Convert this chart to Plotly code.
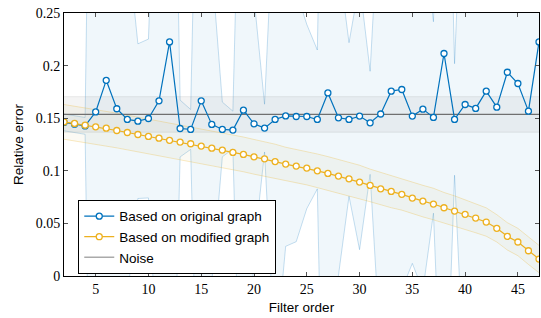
import plotly.graph_objects as go

# ---------------- data ----------------
filter_order = list(range(2, 48))

orig_mean = [0.146, 0.1443, 0.1427, 0.156, 0.186, 0.159, 0.1488, 0.1472, 0.1497, 0.1665,
             0.2225, 0.1402, 0.1393, 0.1665, 0.1441, 0.1393, 0.1387, 0.1576, 0.1447, 0.1406,
             0.1488, 0.1522, 0.1516, 0.1516, 0.1488, 0.174, 0.1504, 0.1488, 0.152, 0.1456,
             0.154, 0.1757, 0.1773, 0.152, 0.1586, 0.1507, 0.2115, 0.1488, 0.163, 0.1593,
             0.1757, 0.1605, 0.1937, 0.183, 0.1567, 0.2225]

orig_std = [0.008, 0.008, 0.008, 0.7, 0.6, 0.4, 0.17, 0.0735, 0.0755, 0.34,
            0.5, 0.027, 0.019, 0.45, 0.15, 0.026, 0.018, 0.4, 0.12, 0.0227,
            0.229, 0.124, 0.119, 0.0876, 0.066, 0.57, 0.15, 0.073, 0.127, 0.049,
            0.227, 0.2, 0.19, 0.14, 0.1725, 0.091, 0.4, 0.053, 0.28, 0.3,
            0.28, 0.3, 0.3, 0.25, 0.3, 0.3]

mod_mean = [0.1465, 0.145, 0.1434, 0.1418, 0.1405, 0.1383, 0.1364, 0.1345, 0.1327, 0.131,
            0.129, 0.1273, 0.1257, 0.1235, 0.1215, 0.1197, 0.1175, 0.1156, 0.1133, 0.1114,
            0.1088, 0.1064, 0.1045, 0.1026, 0.1, 0.0975, 0.095, 0.0924, 0.0893, 0.0861,
            0.0829, 0.0804, 0.0776, 0.0741, 0.0712, 0.0684, 0.0649, 0.0617, 0.0586, 0.0551,
            0.0513, 0.0453, 0.0377, 0.0323, 0.024, 0.0161]

mod_std = [0.0165, 0.0165, 0.0165, 0.0165, 0.0165, 0.0165, 0.0165, 0.0165, 0.0165, 0.0165,
           0.0165, 0.0165, 0.0165, 0.0165, 0.0165, 0.0165, 0.0165, 0.0165, 0.0165, 0.0165,
           0.0165, 0.016, 0.016, 0.016, 0.016, 0.016, 0.016, 0.016, 0.016, 0.0155,
           0.0155, 0.0155, 0.015, 0.015, 0.015, 0.015, 0.0145, 0.0145, 0.014, 0.014,
           0.0135, 0.013, 0.013, 0.013, 0.013, 0.013]

noise_level = 0.1536
noise_std = 0.0169

x_ticks = [5, 10, 15, 20, 25, 30, 35, 40, 45]
y_ticks = [0, 0.05, 0.1, 0.15, 0.2, 0.25]
y_tick_text = ["0", "0.05", "0.1", "0.15", "0.2", "0.25"]

BLUE = "#0072BD"
ORANGE = "#EDB120"

fig = go.Figure()

def band(x, lo, hi, line_col, fill_col):
    fig.add_trace(go.Scatter(x=x, y=lo, mode="lines", line=dict(color=line_col, width=0.9),
                             showlegend=False, hoverinfo="skip"))
    fig.add_trace(go.Scatter(x=x, y=hi, mode="lines", line=dict(color=line_col, width=0.9),
                             fill="tonexty", fillcolor=fill_col, showlegend=False, hoverinfo="skip"))

# blue band
band(filter_order,
     [m - s for m, s in zip(orig_mean, orig_std)],
     [m + s for m, s in zip(orig_mean, orig_std)],
     "rgba(0,114,189,0.25)", "rgba(0,114,189,0.06)")

# noise band
nx = [filter_order[0], filter_order[-1]]
band(nx, [noise_level - noise_std] * 2, [noise_level + noise_std] * 2,
     "rgba(128,128,128,0.18)", "rgba(128,128,128,0.09)")

# orange band
band(filter_order,
     [m - s for m, s in zip(mod_mean, mod_std)],
     [m + s for m, s in zip(mod_mean, mod_std)],
     "rgba(237,177,32,0.3)", "rgba(200,190,110,0.08)")

# noise line
fig.add_trace(go.Scatter(x=nx, y=[noise_level] * 2, mode="lines",
                         line=dict(color="#707070", width=1.2), showlegend=False))

marker_common = dict(symbol="circle", size=6, color="white")

fig.add_trace(go.Scatter(x=filter_order, y=orig_mean, mode="lines+markers",
                         name="Based on original graph",
                         line=dict(color=BLUE, width=1.2),
                         marker=dict(**marker_common, line=dict(color=BLUE, width=1.3))))
fig.add_trace(go.Scatter(x=filter_order, y=mod_mean, mode="lines+markers",
                         name="Based on modified graph",
                         line=dict(color=ORANGE, width=1.2),
                         marker=dict(**marker_common, line=dict(color=ORANGE, width=1.3))))
fig.add_trace(go.Scatter(x=[None], y=[None], mode="lines", name="Noise",
                         line=dict(color="#aaaaaa", width=1.5)))

serif = "Liberation Serif"
sans = "Liberation Sans"

fig.update_layout(
    width=541, height=318,
    margin=dict(l=64, r=2, t=13, b=42),
    paper_bgcolor="white", plot_bgcolor="white",
    showlegend=True,
    legend=dict(x=0.03, y=0.008, xanchor="left", yanchor="bottom",
                bgcolor="white", bordercolor="black", borderwidth=1,
                font=dict(family=sans, size=13.5, color="black"),
                traceorder="normal", tracegroupgap=0, itemwidth=30),
    font=dict(family=sans, color="black"),
)

fig.update_xaxes(range=[2, 47], tickvals=x_ticks, ticks="inside", ticklen=4,
                 tickcolor="#555555", showline=True, linecolor="black", linewidth=1,
                 mirror="ticks", showgrid=False, zeroline=False,
                 tickfont=dict(family=serif, size=14),
                 title=dict(text="Filter order", font=dict(family=sans, size=13.5), standoff=6))
fig.update_yaxes(range=[0, 0.25], tickvals=y_ticks, ticktext=y_tick_text, ticks="inside",
                 ticklen=4, tickcolor="#555555", showline=True, linecolor="black", linewidth=1,
                 mirror="ticks", showgrid=False, zeroline=False,
                 tickfont=dict(family=serif, size=14),
                 title=dict(text="Relative error", font=dict(family=sans, size=13.5), standoff=8))

# remove the default page margin so the 541x318 figure fills the window exactly
fig.write_html("out.html",
               config={"displayModeBar": False},
               post_script="document.body.style.margin='0';"
                           "document.body.style.overflow='hidden';"
                           "document.documentElement.style.overflow='hidden';")
